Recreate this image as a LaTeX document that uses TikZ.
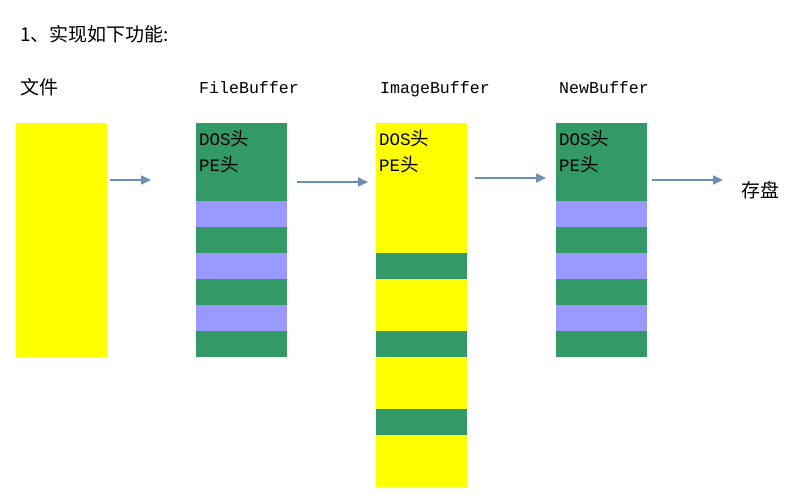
\documentclass[tikz,border=0pt]{standalone}
\usepackage{fontspec}
\setmonofont{Liberation Mono}
\newfontfamily\cjk{Noto Sans CJK SC}
\usepackage{tikz}
\usetikzlibrary{arrows.meta,positioning}

\definecolor{bufgreen}{RGB}{51,153,102}
\definecolor{bufviolet}{RGB}{153,153,255}
\definecolor{bufyellow}{RGB}{255,255,0}
\definecolor{flowblue}{RGB}{108,142,178}

\newcommand{\hdr}[1]{{\ttfamily #1}{\fontsize{18.5}{19}\selectfont\cjk 头}}

\begin{document}
\begin{tikzpicture}[x=1pt,y=1pt,yscale=-1,xscale=1,
  cjktext/.style={anchor=base west,inner sep=0pt,font=\fontsize{19}{19}\selectfont\cjk},
  monotext/.style={anchor=base west,inner sep=0pt,font=\fontsize{16.6}{17}\selectfont\ttfamily},
  hdrtext/.style={anchor=base west,inner sep=0pt,font=\fontsize{17.5}{18}\selectfont},
  block/.style={anchor=north west,inner sep=0pt,outer sep=0pt,minimum width=91,draw=none},
  flow/.style={draw=flowblue,line width=1.5,-{Triangle[length=10,width=9]}}]
\useasboundingbox (0,0) rectangle (792,503);

% Text Node
\node[cjktext] (title) at (20,42) {1、实现如下功能:};
% Text Node
\node[cjktext] (filelbl) at (20,94) {文件};
% Text Node
\node[monotext] (fblbl) at (199,93) {FileBuffer};
% Text Node
\node[monotext] (iblbl) at (380,93) {ImageBuffer};
% Text Node
\node[monotext] (nblbl) at (559,93) {NewBuffer};

%Shape: Rectangle [file]
\node[block,fill=bufyellow,minimum height=234] (file) at (16,123) {};

%Shape: Rectangle [FileBuffer]
\node[block,fill=bufgreen,minimum height=234] (fbuf) at (196,123) {};
\fill[bufviolet] (196,201) rectangle (287,227);
\fill[bufviolet] (196,253) rectangle (287,279);
\fill[bufviolet] (196,305) rectangle (287,331);

%Shape: Rectangle [ImageBuffer]
\node[block,fill=bufyellow,minimum height=364] (ibuf) at (376,123) {};
\fill[bufgreen] (376,253) rectangle (467,279);
\fill[bufgreen] (376,331) rectangle (467,357);
\fill[bufgreen] (376,409) rectangle (467,435);

%Shape: Rectangle [NewBuffer]
\node[block,fill=bufgreen,minimum height=234] (nbuf) at (556,123) {};
\fill[bufviolet] (556,201) rectangle (647,227);
\fill[bufviolet] (556,253) rectangle (647,279);
\fill[bufviolet] (556,305) rectangle (647,331);

% Text Node
\node[hdrtext] (fbdos) at (199,145) {\hdr{DOS}};
\node[hdrtext] (fbpe) at (199,171) {\hdr{PE}};
% Text Node
\node[hdrtext] (ibdos) at (379,145) {\hdr{DOS}};
\node[hdrtext] (ibpe) at (379,171) {\hdr{PE}};
% Text Node
\node[hdrtext] (nbdos) at (559,145) {\hdr{DOS}};
\node[hdrtext] (nbpe) at (559,171) {\hdr{PE}};

% Text Node
\node[cjktext] (save) at (741,197) {存盘};

%Straight Lines
\coordinate (f1) at (110,180);
\coordinate (f2) at (151,180);
\draw[flow] (f1) -- (f2);
%Straight Lines
\coordinate (g1) at (297,182);
\coordinate (g2) at (368,182);
\draw[flow] (g1) -- (g2);
%Straight Lines
\coordinate (h1) at (475,178);
\coordinate (h2) at (546,178);
\draw[flow] (h1) -- (h2);
%Straight Lines
\coordinate (k1) at (652,180);
\coordinate (k2) at (723,180);
\draw[flow] (k1) -- (k2);

\end{tikzpicture}
\end{document}
